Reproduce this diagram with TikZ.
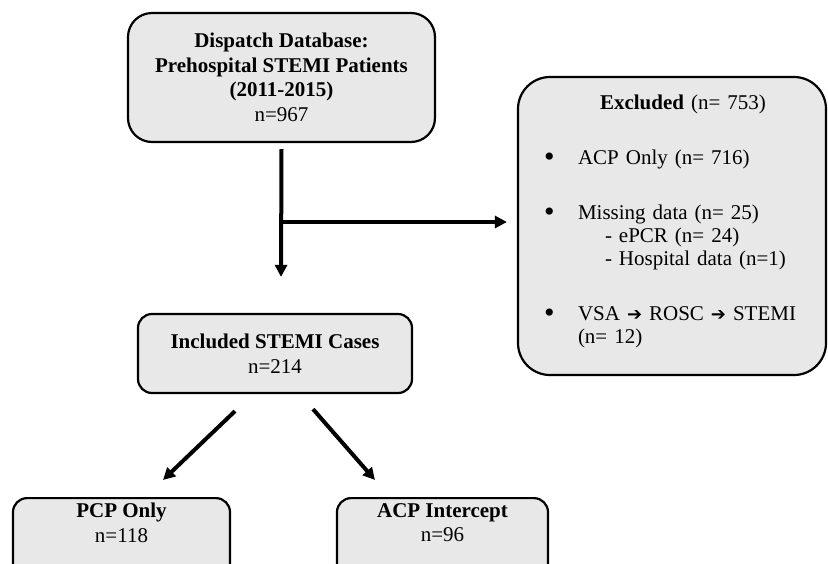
\documentclass[tikz,border=0pt]{standalone}
\usepackage{fontspec}
\setmainfont{Liberation Serif}
\newfontfamily\arrowfont{DejaVu Sans}
\usetikzlibrary{arrows.meta,positioning}
\definecolor{boxgray}{RGB}{232,232,232}
\newcommand{\rarr}{{\arrowfont\fontsize{18}{18}\selectfont ➔}}
\newcommand{\exitem}[1]{\hspace*{7pt}\makebox[34pt][l]{\raisebox{-2pt}{\fontsize{30}{30}\selectfont\textbullet}}#1}

\begin{document}
\begin{tikzpicture}[
  x=1pt, y=-1pt,
  box/.style={rectangle, draw, line width=2.2pt, fill=boxgray, rounded corners=#1, align=center, font=\fontsize{21}{24.5}\selectfont},
  box/.default=14pt,
  flow/.style={-{Triangle[length=12pt,width=12pt]}, line width=4pt}
]
\useasboundingbox (0,0) rectangle (828,563);
\clip (0,0) rectangle (828,563);

\node[box=24pt, minimum width=307pt, minimum height=129pt] (db) at (281.5,77.5) {\textbf{Dispatch Database:}\\\textbf{Prehospital STEMI Patients}\\\textbf{(2011-2015)}\\n=967};
\node[box, minimum width=274pt, minimum height=79pt] (incl) at (275,353.5) {\textbf{Included STEMI Cases}\\n=214};
\node[box=32pt, minimum width=308pt, minimum height=298pt, text width=270pt, align=left, font=\fontsize{21}{23}\selectfont] (excl) at (672,226) {%
  \hspace*{63pt}\textbf{Excluded} (n= 753)\\[32pt]
  \exitem{ACP Only (n= 716)}\\[32pt]
  \exitem{Missing data (n= 25)}\\
  \hspace*{68pt}- ePCR (n= 24)\\
  \hspace*{68pt}- Hospital data (n=1)\\[32pt]
  \exitem{VSA \rarr{} ROSC \rarr{} STEMI}\\
  \hspace*{41pt}(n= 12)\rule[-14pt]{0pt}{14pt}};
\node[box, anchor=north, minimum width=217pt, inner ysep=5pt] (pcp) at (121.5,497) {\textbf{PCP Only}\\n=118\rule[-40pt]{0pt}{40pt}};
\node[box, anchor=north, minimum width=211pt, inner ysep=5pt] (acp) at (442.5,497) {\textbf{ACP Intercept}\\n=96\rule[-40pt]{0pt}{40pt}};

\coordinate (split) at (281,222);

\draw[flow] ([yshift=-6pt]db.south) -- ([xshift=6pt,yshift=36pt]incl.north);
\draw[flow, shorten >=10pt] (split) -- (split -| excl.west);
\draw[flow] ([xshift=-40pt,yshift=-17pt]incl.south) -- ([xshift=41.5pt,yshift=17pt]pcp.north);
\draw[flow] ([xshift=38pt,yshift=-15pt]incl.south) -- ([xshift=-67.5pt,yshift=17pt]acp.north);
\end{tikzpicture}
\end{document}
